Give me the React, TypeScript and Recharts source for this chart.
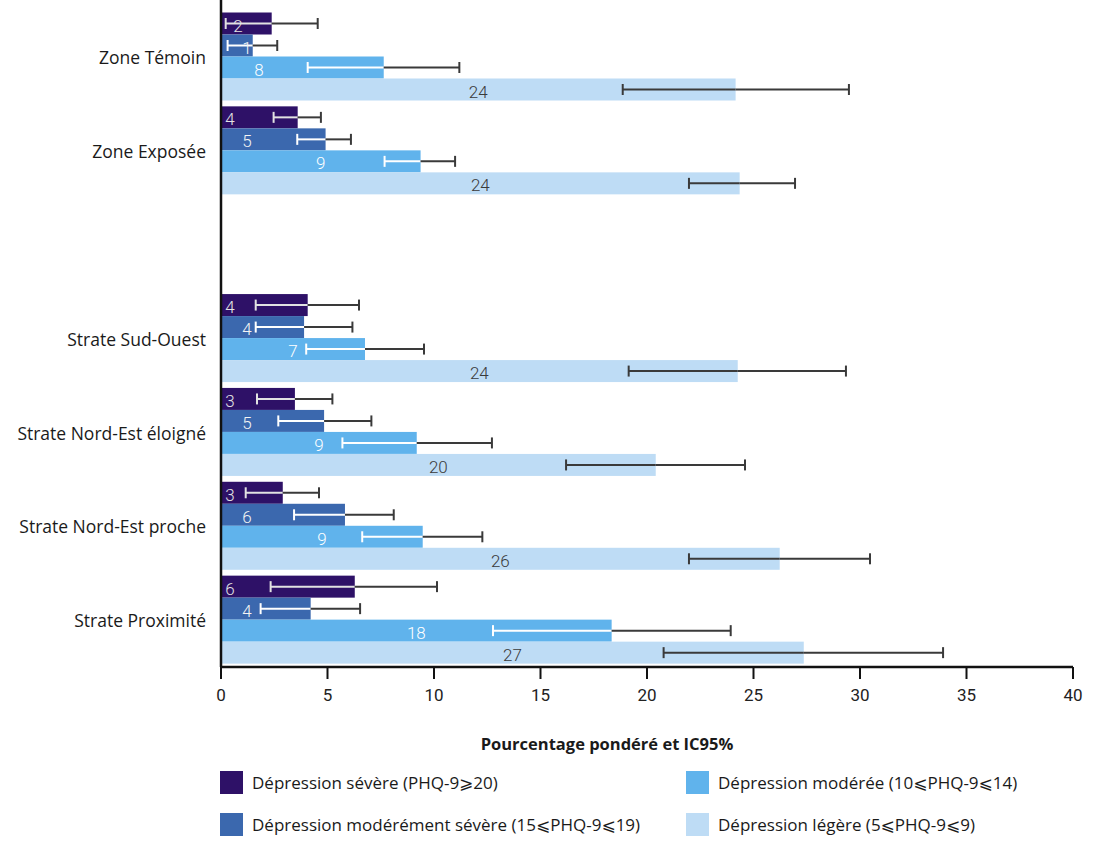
import React from "react";
import { BarChart, Bar, XAxis, YAxis, Legend, LabelList } from "recharts";

const categories = [
  "Zone Témoin",
  "Zone Exposée",
  "",
  "Strate Sud-Ouest",
  "Strate Nord-Est éloigné",
  "Strate Nord-Est proche",
  "Strate Proximité",
];

const severe = [2.38, 3.6, null, 4.07, 3.47, 2.9, 6.28];
const severeLo = [0.22, 2.47, null, 1.63, 1.69, 1.16, 2.33];
const severeHi = [4.54, 4.69, null, 6.48, 5.23, 4.6, 10.14];

const modSevere = [1.49, 4.91, null, 3.9, 4.84, 5.82, 4.21];
const modSevereLo = [0.31, 3.58, null, 1.63, 2.69, 3.43, 1.86];
const modSevereHi = [2.64, 6.1, null, 6.17, 7.06, 8.11, 6.53];

const moderate = [7.64, 9.37, null, 6.76, 9.19, 9.47, 18.34];
const moderateLo = [4.07, 7.68, null, 4.0, 5.7, 6.63, 12.77];
const moderateHi = [11.19, 10.99, null, 9.53, 12.72, 12.27, 23.93];

const mild = [24.16, 24.35, null, 24.26, 20.41, 26.23, 27.36];
const mildLo = [18.86, 21.97, null, 19.14, 16.2, 21.97, 20.78];
const mildHi = [29.48, 26.95, null, 29.34, 24.6, 30.47, 33.9];

const xTicks = [0, 5, 10, 15, 20, 25, 30, 35, 40];

const seriesNames = [
  "Dépression sévère (PHQ-9⩾20)",
  "Dépression modérément sévère (15⩽PHQ-9⩽19)",
  "Dépression modérée (10⩽PHQ-9⩽14)",
  "Dépression légère (5⩽PHQ-9⩽9)",
];

const data = categories.map((name, i) => ({
  name,
  severe: severe[i],
  severeLo: severeLo[i],
  severeHi: severeHi[i],
  modSevere: modSevere[i],
  modSevereLo: modSevereLo[i],
  modSevereHi: modSevereHi[i],
  moderate: moderate[i],
  moderateLo: moderateLo[i],
  moderateHi: moderateHi[i],
  mild: mild[i],
  mildLo: mildLo[i],
  mildHi: mildHi[i],
}));

const COLORS = ["#2e1167", "#3b68ae", "#60b3ec", "#bedcf5"];
const INNER = ["#e2e2e2", "#ffffff", "#ffffff", "#3a3a3a"];
const LABEL_COLORS = ["#e4e4e4", "#f4f4f4", "#ffffff", "#3a3a3a"];
const DARK = "#3a3a3a";
const FONT = 'Roboto, "DejaVu Sans", sans-serif';
const TEXT_FONT = '"Open Sans", "DejaVu Sans", sans-serif';
const KEYS = ["severe", "modSevere", "moderate", "mild"];

const makeShape = (key: string, s: number) => (props: any) => {
  const { x, y, width, height, payload } = props;
  const v = payload ? payload[key] : null;
  if (v == null || !width || width <= 0) return <g />;
  const k = width / v;
  const lo = payload[key + "Lo"];
  const hi = payload[key + "Hi"];
  const xl = x + lo * k;
  const xv = x + width;
  const xh = x + hi * k;
  const cy = y + height / 2;
  const cap = 5.5;
  return (
    <g>
      <rect x={x} y={y} width={width} height={height} fill={COLORS[s]} />
      <line x1={xl} x2={xv} y1={cy} y2={cy} stroke={INNER[s]} strokeWidth={2} />
      <line x1={xl} x2={xl} y1={cy - cap} y2={cy + cap} stroke={INNER[s]} strokeWidth={2} />
      <line x1={xv} x2={xh} y1={cy} y2={cy} stroke={DARK} strokeWidth={2} />
      <line x1={xh} x2={xh} y1={cy - cap} y2={cy + cap} stroke={DARK} strokeWidth={2} />
    </g>
  );
};

const makeLabel = (s: number) => (props: any) => {
  const vb = props.viewBox || {};
  const x = props.x ?? vb.x;
  const y = props.y ?? vb.y;
  const w = props.width ?? vb.width;
  const h = props.height ?? vb.height;
  const value = props.value;
  if (value == null || x == null) return null;
  const cat = categories[props.index];
  let cx: number;
  if (s === 0) cx = x + (cat === "Zone Témoin" ? 17 : 9);
  else if (s === 1) cx = x + 26;
  else if (s === 2 && cat === "Zone Témoin") cx = x + 38;
  else cx = x + w / 2;
  return (
    <text
      x={cx}
      y={y + h / 2 + 2}
      textAnchor="middle"
      dominantBaseline="central"
      fill={LABEL_COLORS[s]}
      fontSize={17}
      fontWeight={300}
      fontFamily={FONT}
    >
      {Math.round(Number(value))}
    </text>
  );
};

const AxisTitle = (props: any) => {
  const vb = props.viewBox || {};
  return (
    <text
      x={vb.x + vb.width / 2 - 40}
      y={743}
      textAnchor="middle"
      dominantBaseline="central"
      fontSize={16.5}
      fontWeight={700}
      fill="#1a1a1a"
      fontFamily={TEXT_FONT}
    >
      Pourcentage pondéré et IC95%
    </text>
  );
};

const renderLegend = () => {
  const pos = [
    { left: 220, top: 4 },
    { left: 220, top: 46 },
    { left: 686, top: 4 },
    { left: 686, top: 46 },
  ];
  return (
    <div style={{ position: "relative", width: 1096, height: 76 }}>
      {seriesNames.map((n, i) => (
        <div
          key={n}
          style={{
            position: "absolute",
            left: pos[i].left,
            top: pos[i].top,
            display: "flex",
            alignItems: "center",
            height: 23,
            fontFamily: TEXT_FONT,
            fontSize: 17,
            color: "#1a1a1a",
            whiteSpace: "nowrap",
          }}
        >
          <span
            style={{
              display: "inline-block",
              width: 23,
              height: 23,
              background: COLORS[i],
              marginRight: 9,
            }}
          />
          <span>{n}</span>
        </div>
      ))}
    </div>
  );
};

export default function App() {
  return (
    <div
      style={{
        position: "absolute",
        left: 0,
        top: 0,
        width: 1096,
        height: 843,
        background: "#ffffff",
      }}
    >
      <BarChart
        width={1096}
        height={843}
        data={data}
        layout="vertical"
        margin={{ top: 0, right: 23, bottom: 0, left: 0 }}
        barCategoryGap={2.5}
        barGap={0}
      >
        <XAxis
          type="number"
          domain={[0, 40]}
          ticks={xTicks}
          interval={0}
          height={100}
          tickSize={12}
          tickMargin={10}
          axisLine={{ stroke: "#111", strokeWidth: 2.5 }}
          tickLine={{ stroke: "#111", strokeWidth: 2 }}
          tick={{ fontSize: 17, fill: "#222", fontFamily: FONT }}
          label={<AxisTitle />}
        />
        <YAxis
          type="category"
          dataKey="name"
          width={221}
          padding={{ top: 10, bottom: 0 }}
          tickLine={false}
          tickSize={0}
          tickMargin={15}
          interval={0}
          axisLine={{ stroke: "#111", strokeWidth: 2.5 }}
          tick={{ fontSize: 17.5, fill: "#1a1a1a", fontFamily: TEXT_FONT, dy: 1 }}
        />
        {KEYS.map((k, s) => (
          <Bar
            key={k}
            dataKey={k}
            name={seriesNames[s]}
            fill={COLORS[s]}
            isAnimationActive={false}
            shape={makeShape(k, s)}
          >
            <LabelList dataKey={k} content={makeLabel(s)} />
          </Bar>
        ))}
        <Legend
          verticalAlign="bottom"
          content={renderLegend}
          wrapperStyle={{ left: 0, top: 767, width: 1096, height: 76 }}
        />
      </BarChart>
    </div>
  );
}
